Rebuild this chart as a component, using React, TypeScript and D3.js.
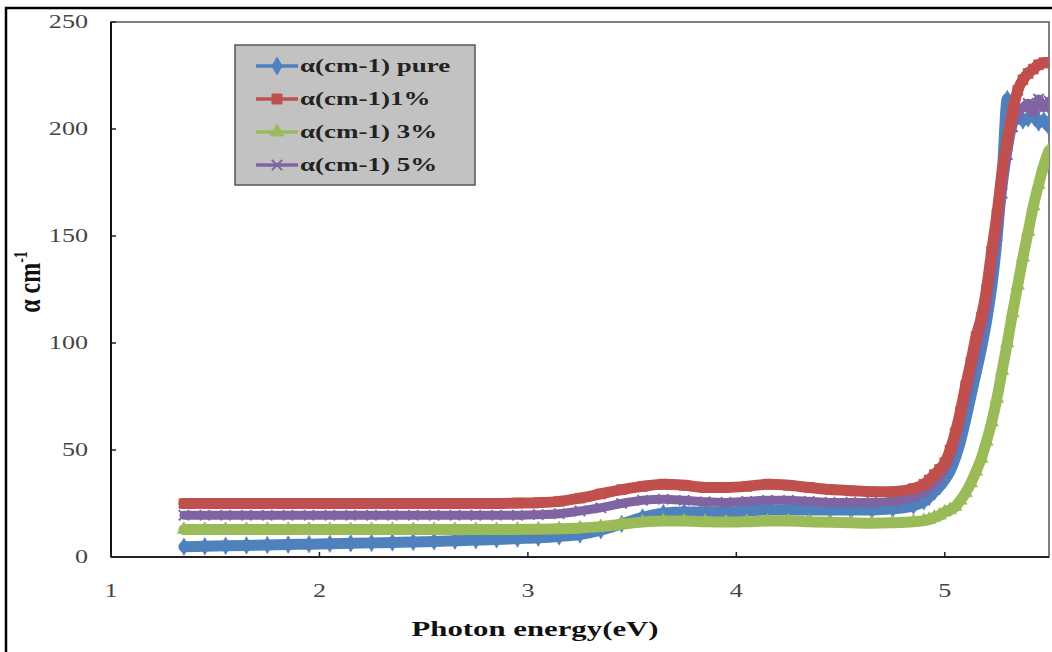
import * as d3 from 'd3';

// photon energy (eV) sample points
const energy = [
  1.35, 1.45, 1.55, 1.65, 1.75, 1.85, 1.95, 2.05, 2.15, 2.25, 2.35, 2.45,
  2.55, 2.65, 2.75, 2.85, 2.95, 3.05, 3.15, 3.25, 3.35, 3.45, 3.55, 3.65,
  3.75, 3.85, 3.95, 4.05, 4.15, 4.25, 4.35, 4.45, 4.55, 4.65, 4.75, 4.85,
  4.9, 4.925, 4.95, 4.975, 5.0, 5.025, 5.05, 5.075, 5.1, 5.125, 5.15, 5.175,
  5.2, 5.225, 5.25, 5.275, 5.3, 5.325, 5.35, 5.375, 5.4, 5.425, 5.45, 5.475, 5.5,
];

const alphaPure = [
  4.8, 5, 5.2, 5.4, 5.6, 5.8, 6, 6.2, 6.4, 6.6, 6.8, 7,
  7.3, 7.6, 7.9, 8.2, 8.6, 9, 9.6, 10.5, 12.5, 15.5, 18.5, 20.5,
  21, 21, 21, 21.5, 22, 22, 22, 22, 22, 22, 22.5, 24,
  26, 28, 30.5, 33, 36, 40, 46, 54, 64, 75, 86, 97,
  110, 126, 148, 178, 214, 209, 206, 204, 205, 207, 203, 204, 201,
];

const alpha1 = [
  25, 25, 25, 25, 25, 25, 25, 25, 25, 25, 25, 25,
  25, 25, 25, 25, 25.2, 25.4, 26, 27.5, 29.5, 31.5, 33, 34,
  33.5, 32.5, 32.5, 33, 34, 33.5, 32.5, 31.5, 31, 30.5, 30.5, 32,
  34, 36, 38.5, 41, 44, 50, 58, 68, 80, 91, 103, 112,
  125, 143, 160, 180, 195, 208, 218, 223, 226, 228, 230, 231, 231,
];

const alpha3 = [
  12.8, 12.8, 12.8, 12.8, 12.8, 12.8, 12.8, 12.8, 12.8, 12.8, 12.8, 12.8,
  12.8, 12.8, 12.8, 12.8, 12.9, 13, 13.2, 13.5, 14.2, 15.3, 16.3, 16.8,
  16.8, 16.5, 16.3, 16.5, 16.8, 16.8, 16.5, 16.2, 16, 15.8, 16, 16.5,
  17, 17.5, 18.5, 19.5, 21, 22, 23.5, 26.5, 30, 34.5, 40, 46,
  54, 63, 74, 87, 100, 114, 127, 140, 152, 164, 174, 183, 190,
];

const alpha5 = [
  19.5, 19.5, 19.5, 19.5, 19.5, 19.5, 19.5, 19.5, 19.5, 19.5, 19.5, 19.5,
  19.5, 19.5, 19.5, 19.5, 19.5, 19.8, 20.2, 21.5, 23, 25, 26.5, 27,
  26.5, 25.8, 25.5, 26, 26.5, 26.5, 26, 25.5, 25.5, 25.5, 26, 28,
  30, 32, 34.5, 37, 41, 46, 53, 62, 73, 84, 95, 105,
  117, 133, 150, 170, 188, 201, 207, 210, 212, 208, 214, 210, 213,
];

const seriesNames = ['α(cm-1) pure', 'α(cm-1)1%', 'α(cm-1) 3%', 'α(cm-1) 5%'];
const xTicks = [1, 2, 3, 4, 5];
const yTicks = [0, 50, 100, 150, 200, 250];

const W = 1052;
const H = 652;
const SX = 1.45; // the picture is stretched sideways
const serif = '"Liberation Serif", "Times New Roman", serif';

const x = d3.scaleLinear().domain([1, 5.5]).range([111, 1049]);
const y = d3.scaleLinear().domain([0, 250]).range([557, 22]);

const series = [
  { name: seriesNames[0], values: alphaPure, color: '#4F81BD', symbol: d3.symbolDiamond, size: 90, band: 11 },
  { name: seriesNames[1], values: alpha1, color: '#C0504D', symbol: d3.symbolSquare, size: 100, band: 11 },
  { name: seriesNames[2], values: alpha3, color: '#9BBB59', symbol: d3.symbolTriangle, size: 80, band: 11 },
  { name: seriesNames[3], values: alpha5, color: '#8064A2', symbol: d3.symbolTimes || d3.symbolCross, size: 70, band: 9 },
];
// 1% is drawn last so the red edge stays on top in the steep part
const drawOrder = [0, 2, 3, 1];

const line = d3
  .line<number>()
  .x((_, i) => x(energy[i]))
  .y((d) => y(d))
  .curve(d3.curveMonotoneX);

function SText({ tx, ty, size, anchor = 'start', bold = false, sx = SX, fill = '#222', children }: any) {
  return (
    <text
      transform={`translate(${tx},${ty}) scale(${sx},1)`}
      fontFamily={serif}
      fontSize={size}
      fontWeight={bold ? 'bold' : 'normal'}
      textAnchor={anchor}
      fill={fill}
    >
      {children}
    </text>
  );
}

export default function App() {
  const [x0, x1] = x.range();
  const [y0, y1] = y.range();
  return (
    <svg
      width={W}
      height={H}
      style={{ position: 'absolute', left: 0, top: 0, background: '#fff' }}
    >
      <defs>
        <clipPath id="plotClip">
          <rect x={x0} y={y1} width={x1 - x0} height={y0 - y1} />
        </clipPath>
      </defs>
      {/* outer frame */}
      <rect x={6} y={8} width={1070} height={680} fill="#fff" stroke="#000" strokeWidth={2.5} />

      {/* plot box */}
      <rect x={x0} y={y1} width={x1 - x0} height={y0 - y1} fill="#fff" stroke="#555" strokeWidth={1.5} />

      {/* series */}
      <g clipPath="url(#plotClip)">
        {drawOrder.map((k) => {
          const s = series[k];
          const sym = d3.symbol().type(s.symbol).size(s.size)();
          const stroked = k === 3;
          return (
            <g key={s.name}>
              <path
                d={line(s.values) || ''}
                fill="none"
                stroke={s.color}
                strokeWidth={s.band}
                strokeLinejoin="round"
                strokeLinecap="round"
              />
              {s.values.map((v, i) => (
                <path
                  key={i}
                  d={sym || ''}
                  transform={`translate(${x(energy[i])},${y(v)})`}
                  fill={stroked ? 'none' : s.color}
                  stroke={s.color}
                  strokeWidth={stroked ? 2 : 0.5}
                />
              ))}
            </g>
          );
        })}
      </g>

      {/* axes */}
      <line x1={x0} x2={x0} y1={y1} y2={y0} stroke="#111" strokeWidth={2} />
      <line x1={x0} x2={x1} y1={y0} y2={y0} stroke="#222" strokeWidth={2} />
      {yTicks.map((t) => (
        <g key={'y' + t}>
          <line x1={x0} x2={x0 + 5} y1={y(t)} y2={y(t)} stroke="#222" strokeWidth={1.5} />
          <SText tx={88} ty={y(t) + 6} size={18} anchor="end" fill="#444">
            {t}
          </SText>
        </g>
      ))}
      {xTicks.map((t) => (
        <g key={'x' + t}>
          <line x1={x(t)} x2={x(t)} y1={y0} y2={y0 - 5} stroke="#222" strokeWidth={1.5} />
          <SText tx={x(t)} ty={597} size={18} anchor="middle" fill="#444">
            {t}
          </SText>
        </g>
      ))}

      {/* axis titles */}
      <SText tx={535} ty={636} size={22} anchor="middle" bold sx={1.4} fill="#111">
        Photon energy(eV)
      </SText>
      <text
        transform={`translate(40,282) scale(1.3,1) rotate(-90)`}
        fontFamily={serif}
        fontSize={24}
        fontWeight="bold"
        textAnchor="middle"
        fill="#111"
      >
        α cm
        <tspan fontSize={14} dy={-10}>-1</tspan>
      </text>

      {/* legend */}
      <g>
        <rect x={235} y={45} width={240} height={140} fill="#c2c2c2" stroke="#555" strokeWidth={1.5} />
        {series.map((s, i) => {
          const ly = 66 + i * 33;
          const sym = d3.symbol().type(s.symbol).size(s.size)();
          const stroked = i === 3;
          return (
            <g key={'lg' + i}>
              <line x1={256} x2={298} y1={ly} y2={ly} stroke={s.color} strokeWidth={3.5} />
              <path
                d={sym || ''}
                transform={`translate(277,${ly})`}
                fill={stroked ? 'none' : s.color}
                stroke={s.color}
                strokeWidth={stroked ? 2 : 1}
              />
              <SText tx={300} ty={ly + 6} size={18} bold sx={1.5} fill="#222">
                {s.name}
              </SText>
            </g>
          );
        })}
      </g>
    </svg>
  );
}
